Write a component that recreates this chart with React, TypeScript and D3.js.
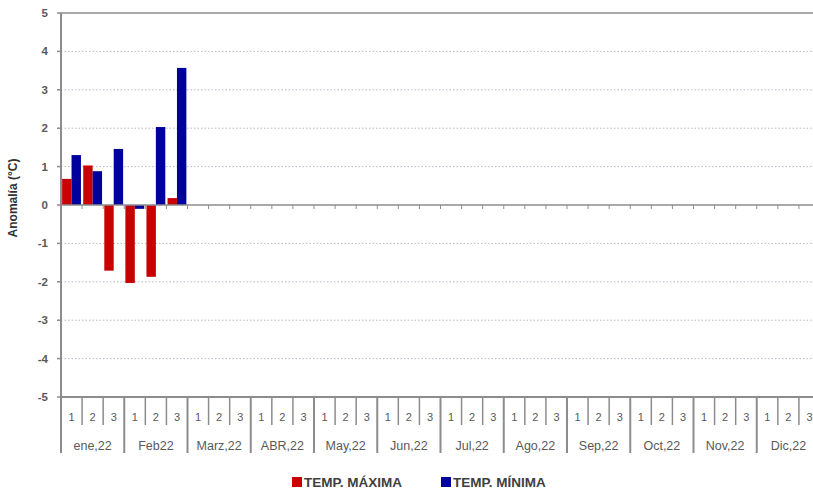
import React from "react";
import * as d3 from "d3";

const months = ["ene,22", "Feb22", "Marz,22", "ABR,22", "May,22", "Jun,22", "Jul,22", "Ago,22", "Sep,22", "Oct,22", "Nov,22", "Dic,22"];
const decades = ["1", "2", "3"];
const tempMax: (number | null)[] = [0.68, 1.03, -1.71, -2.03, -1.87, 0.18];
const tempMin: (number | null)[] = [1.3, 0.88, 1.46, -0.1, 2.03, 3.57];
const yTicks = [5, 4, 3, 2, 1, 0, -1, -2, -3, -4, -5];
const seriesNames = ["TEMP. MÁXIMA", "TEMP. MÍNIMA"];
const seriesColors = ["#c80000", "#00009c"];

const W = 813, H = 493;
const left = 61, right = 820, top = 13, bottom = 397;

export default function App() {
  const slots = months.flatMap((m) => decades.map((d) => `${m}|${d}`));
  const x = d3.scaleBand<string>().domain(slots).range([left, right]);
  const xm = d3.scaleBand<string>().domain(months).range([left, right]);
  const y = d3.scaleLinear().domain([-5, 5]).range([bottom, top]);
  const inner = d3.scaleBand<string>().domain(["max", "min"]).range([0, x.bandwidth()]).paddingOuter(0.12).paddingInner(0);
  const font = "'Liberation Sans', Arial, sans-serif";
  const gray = "#8c8c8c";
  const txt = "#595959";
  const bars: JSX.Element[] = [];
  [tempMax, tempMin].forEach((arr, si) => {
    arr.forEach((v, i) => {
      if (v == null) return;
      const bx = (x(slots[i]) as number) + (inner(si === 0 ? "max" : "min") as number);
      const y0 = y(0), y1 = y(v);
      bars.push(
        <rect key={`${si}-${i}`} x={bx} y={Math.min(y0, y1)} width={inner.bandwidth()} height={Math.abs(y1 - y0)} fill={seriesColors[si]} />
      );
    });
  });
  return (
    <svg width={W} height={H} style={{ position: "absolute", left: 0, top: 0, background: "#fff" }} fontFamily={font}>
      {/* gridlines */}
      {yTicks.filter((t) => t !== 0 && t !== 5 && t !== -5).map((t) => (
        <line key={t} x1={left} x2={right} y1={y(t)} y2={y(t)} stroke="#b8b8c8" strokeDasharray="1.5,2" strokeWidth={1} />
      ))}
      {/* top border */}
      <line x1={left} x2={right} y1={top} y2={top} stroke={gray} strokeWidth={1.5} />
      {bars}
      {/* zero axis */}
      <line x1={left} x2={right} y1={y(0)} y2={y(0)} stroke={gray} strokeWidth={1.5} />
      {slots.map((s, i) => (
        <line key={s} x1={(x(s) as number) + x.bandwidth()} x2={(x(s) as number) + x.bandwidth()} y1={y(0)} y2={y(0) + 4} stroke={gray} strokeWidth={1} />
      ))}
      {/* bottom axis */}
      <line x1={left} x2={right} y1={bottom} y2={bottom} stroke={gray} strokeWidth={2} />
      {/* left axis */}
      <line x1={left} x2={left} y1={top} y2={bottom} stroke={gray} strokeWidth={2} />
      {yTicks.map((t) => (
        <g key={t}>
          <line x1={left - 4} x2={left} y1={y(t)} y2={y(t)} stroke={gray} strokeWidth={1.5} />
          <text x={48} y={y(t)} dy="0.35em" textAnchor="end" fontSize={11.5} fontWeight="bold" fill={txt}>{t}</text>
        </g>
      ))}
      <text transform={`translate(17,${(top + bottom) / 2 - 7}) rotate(-90)`} textAnchor="middle" fontSize={12} fontWeight="bold" fill="#333">Anomalía (°C)</text>
      {/* slot labels & dividers */}
      {slots.map((s, i) => {
        const sx = x(s) as number;
        return (
          <g key={s}>
            {i % 3 !== 0 && <line x1={sx} x2={sx} y1={bottom} y2={425} stroke={gray} strokeWidth={1.5} />}
            <text x={sx + x.bandwidth() / 2} y={421} textAnchor="middle" fontSize={11} fill={txt}>{s.split("|")[1]}</text>
          </g>
        );
      })}
      {months.map((m) => {
        const mx = xm(m) as number;
        return (
          <g key={m}>
            <line x1={mx} x2={mx} y1={bottom} y2={453} stroke={gray} strokeWidth={2} />
            <text x={mx + xm.bandwidth() / 2} y={450} textAnchor="middle" fontSize={12.5} fill={txt}>{m}</text>
          </g>
        );
      })}
      {/* legend */}
      {seriesNames.map((n, i) => {
        const lx = i === 0 ? 292 : 441;
        return (
          <g key={n}>
            <rect x={lx} y={477} width={10} height={10} fill={seriesColors[i]} />
            <text x={lx + 12} y={487} fontSize={13.5} fontWeight="bold" fill="#404040">{n}</text>
          </g>
        );
      })}
    </svg>
  );
}
